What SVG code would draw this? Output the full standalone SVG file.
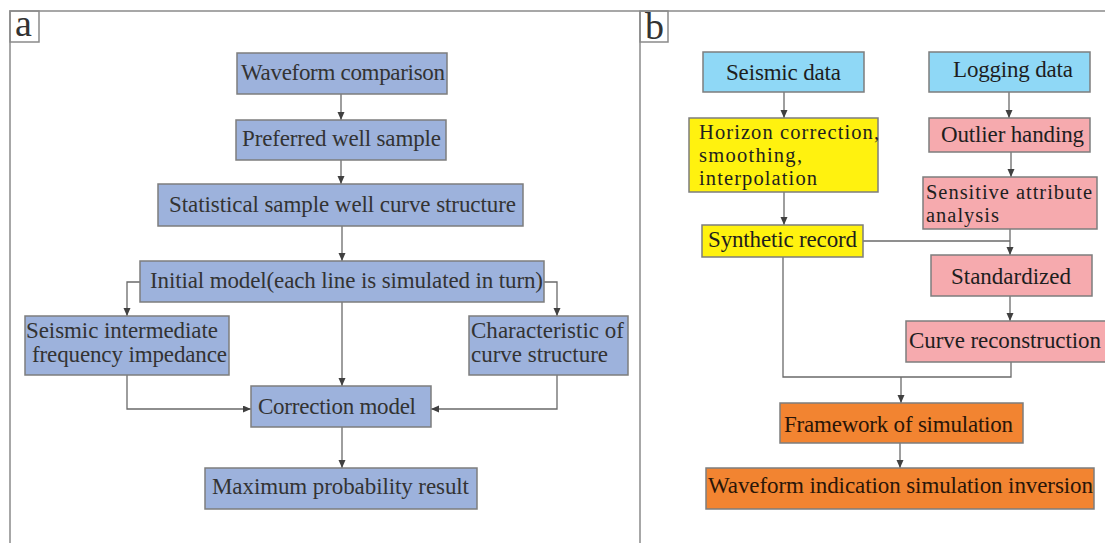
<svg xmlns="http://www.w3.org/2000/svg" width="1105" height="543" viewBox="0 0 1105 543">
<style>
.frame{fill:none;stroke:#8a8a8a;stroke-width:1.5}
.box{stroke:#7d7d7d;stroke-width:1.5}
.blue{fill:#9db2dc}
.cyan{fill:#8fd8f6}
.yellow{fill:#fff20f}
.pink{fill:#f6aaae}
.orange{fill:#f28431}
.t{font-family:"Liberation Serif","Times New Roman",serif;font-size:23px}
.sm{font-size:20.5px}
.ta{fill:#333}
.tb{fill:#1e1e1e}
.to{fill:#2a1608}
.lbl{font-family:"Liberation Serif","Times New Roman",serif;font-size:38px;fill:#333}
.c{fill:none;stroke:#6a6a6a;stroke-width:1.3}
</style>
<defs>
<marker id="ah" markerUnits="userSpaceOnUse" markerWidth="9" markerHeight="8" refX="8" refY="3.5" orient="auto">
<path d="M0,0 L8,3.5 L0,7 z" fill="#404040"/>
</marker>
</defs>
<rect width="1105" height="543" fill="#fff"/>
<g id="frames">
<path class="frame" d="M10,543 V11 H1105 M640,11 V543"/>
<rect class="frame" x="10" y="11" width="29" height="31"/>
<rect class="frame" x="640" y="11" width="28" height="31"/>
<text class="lbl" x="15" y="36">a</text>
<text class="lbl" x="645" y="39">b</text>
</g>
<g id="connectors">
<path class="c" d="M341,94 V120" marker-end="url(#ah)"/>
<path class="c" d="M341,160 V184" marker-end="url(#ah)"/>
<path class="c" d="M342,226 V261" marker-end="url(#ah)"/>
<path class="c" d="M140,282 H127 V316" marker-end="url(#ah)"/>
<path class="c" d="M544,282 H557 V316" marker-end="url(#ah)"/>
<path class="c" d="M342,302 V386" marker-end="url(#ah)"/>
<path class="c" d="M127,375 V409 H251" marker-end="url(#ah)"/>
<path class="c" d="M557,375 V409 H431" marker-end="url(#ah)"/>
<path class="c" d="M342,427 V468" marker-end="url(#ah)"/>
<path class="c" d="M784,92 V118" marker-end="url(#ah)"/>
<path class="c" d="M1009,92 V118" marker-end="url(#ah)"/>
<path class="c" d="M1011,152 V177" marker-end="url(#ah)"/>
<path class="c" d="M784,192 V225" marker-end="url(#ah)"/>
<path class="c" d="M1010,229 V255" marker-end="url(#ah)"/>
<path class="c" d="M863,241 H1010"/>
<path class="c" d="M1010,296 V321" marker-end="url(#ah)"/>
<path class="c" d="M783,257 V377 H1011 V362"/>
<path class="c" d="M901,377 V403" marker-end="url(#ah)"/>
<path class="c" d="M900,443 V468" marker-end="url(#ah)"/>
</g>
<g id="n_waveform_comparison">
<rect class="box blue" x="237" y="53" width="210" height="41"/>
<text class="t ta" x="241" y="80" textLength="204" lengthAdjust="spacing">Waveform comparison</text>
</g>
<g id="n_preferred_well_sample">
<rect class="box blue" x="236" y="120" width="210" height="40"/>
<text class="t ta" x="242" y="146" textLength="199" lengthAdjust="spacing">Preferred well sample</text>
</g>
<g id="n_statistical">
<rect class="box blue" x="158" y="184" width="365" height="42"/>
<text class="t ta" x="169" y="212" textLength="347" lengthAdjust="spacing">Statistical sample well curve structure</text>
</g>
<g id="n_initial_model">
<rect class="box blue" x="140" y="261" width="404" height="41"/>
<text class="t ta" x="150" y="288" textLength="393" lengthAdjust="spacing">Initial model(each line is simulated in turn)</text>
</g>
<g id="n_seismic_intermediate">
<rect class="box blue" x="25" y="316" width="204" height="59"/>
<text class="t ta" x="26" y="338" textLength="192" lengthAdjust="spacing">Seismic intermediate</text>
<text class="t ta" x="32" y="362" textLength="195" lengthAdjust="spacing">frequency impedance</text>
</g>
<g id="n_characteristic">
<rect class="box blue" x="469" y="316" width="159" height="59"/>
<text class="t ta" x="471" y="338" textLength="153" lengthAdjust="spacing">Characteristic of</text>
<text class="t ta" x="471" y="362" textLength="137" lengthAdjust="spacing">curve structure</text>
</g>
<g id="n_correction_model">
<rect class="box blue" x="251" y="386" width="180" height="41"/>
<text class="t ta" x="258" y="414" textLength="158" lengthAdjust="spacing">Correction model</text>
</g>
<g id="n_maximum_probability">
<rect class="box blue" x="205" y="468" width="272" height="41"/>
<text class="t ta" x="212" y="494" textLength="257" lengthAdjust="spacing">Maximum probability result</text>
</g>
<g id="n_seismic_data">
<rect class="box cyan" x="703" y="52" width="161" height="40"/>
<text class="t tb" x="726" y="80" textLength="115" lengthAdjust="spacing">Seismic data</text>
</g>
<g id="n_logging_data">
<rect class="box cyan" x="929" y="52" width="161" height="40"/>
<text class="t tb" x="953" y="77" textLength="120" lengthAdjust="spacing">Logging data</text>
</g>
<g id="n_horizon_correction">
<rect class="box yellow" x="689" y="118" width="189" height="74"/>
<text class="t sm tb" x="699" y="139" textLength="180" lengthAdjust="spacing">Horizon correction,</text>
<text class="t sm tb" x="699" y="162" textLength="103" lengthAdjust="spacing">smoothing,</text>
<text class="t sm tb" x="699" y="185" textLength="118" lengthAdjust="spacing">interpolation</text>
</g>
<g id="n_outlier_handing">
<rect class="box pink" x="929" y="118" width="161" height="34"/>
<text class="t tb" x="941" y="142" textLength="143" lengthAdjust="spacing">Outlier handing</text>
</g>
<g id="n_sensitive_attribute">
<rect class="box pink" x="923" y="177" width="174" height="52"/>
<text class="t sm tb" x="926" y="199" textLength="166" lengthAdjust="spacing">Sensitive attribute</text>
<text class="t sm tb" x="926" y="222" textLength="73" lengthAdjust="spacing">analysis</text>
</g>
<g id="n_synthetic_record">
<rect class="box yellow" x="702" y="225" width="161" height="32"/>
<text class="t tb" x="708" y="247" textLength="149" lengthAdjust="spacing">Synthetic record</text>
</g>
<g id="n_standardized">
<rect class="box pink" x="931" y="255" width="161" height="41"/>
<text class="t tb" x="951" y="284" textLength="120" lengthAdjust="spacing">Standardized</text>
</g>
<g id="n_curve_reconstruction">
<rect class="box pink" x="906" y="321" width="200" height="41"/>
<text class="t tb" x="909" y="348" textLength="192" lengthAdjust="spacing">Curve reconstruction</text>
</g>
<g id="n_framework">
<rect class="box orange" x="780" y="403" width="243" height="40"/>
<text class="t to" x="784" y="432" textLength="229" lengthAdjust="spacing">Framework of simulation</text>
</g>
<g id="n_waveform_indication">
<rect class="box orange" x="706" y="468" width="388" height="41"/>
<text class="t to" x="708" y="493" textLength="385" lengthAdjust="spacing">Waveform indication simulation inversion</text>
</g>
</svg>
